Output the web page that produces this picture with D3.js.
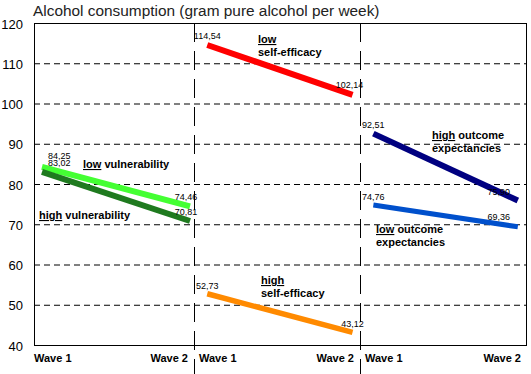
<!DOCTYPE html>
<html><head><meta charset="utf-8">
<script src="https://cdn.jsdelivr.net/npm/d3@7"></script>
<style>html,body{margin:0;padding:0;background:#fff;}svg{display:block;}</style>
</head><body>
<svg id="chart" width="531" height="374"></svg>
<script>
// ---- data ----
const titleText = "Alcohol consumption (gram pure alcohol per week)";
const yTicks = [40, 50, 60, 70, 80, 90, 100, 110, 120];
const waves = ["Wave 1", "Wave 2"];
const groups = ["vulnerability", "self-efficacy", "outcome expectancies"];
const seriesNames = ["low vulnerability", "high vulnerability", "low self-efficacy", "high self-efficacy", "high outcome expectancies", "low outcome expectancies"];
const seriesGroup = [0, 0, 1, 1, 2, 2];
const wave1Values = [84.25, 83.02, 114.54, 52.73, 92.51, 74.76];
const wave2Values = [74.46, 70.81, 102.14, 43.12, 75.90, 69.36];

// ---- layout / style ----
const colors = ["#44ff33", "#1f7a1f", "#ff0000", "#ff8a00", "#000080", "#0050cc"];
const widths = [6, 6, 6, 5.5, 6, 5];
const waveInset = [[0.05, 0.975], [0.08, 0.955], [0.08, 0.945]];
// label placement: [dx, dy, anchor] for wave1 and wave2
const lab1 = [[6,-8,"start"],[6,-6,"start"],[0,-6,"middle"],[0,-5,"middle"],[0,-6,"middle"],[0,-5,"middle"]];
const lab2 = [[-4,-6,"middle"],[-4,-6,"middle"],[-3,-7,"middle"],[0,-5,"middle"],[-19,-6,"middle"],[-19,-7,"middle"]];

const svg = d3.select("#chart");
const x = d3.scaleLinear().domain([0, 1, 2, 3]).range([34, 194, 360, 527]);
const y = d3.scaleLinear().domain([40, 120]).range([345, 23]);
const xL = x(0), xR = x(3), yT = y(120), yB = y(40);

// title
svg.append("text").attr("x", 33).attr("y", 16)
  .attr("font-family", "Liberation Sans, Arial, sans-serif").attr("font-size", 15.4)
  .attr("fill", "#222").text(titleText);

// gridlines
svg.append("g").selectAll("line").data(yTicks.filter(t => t > 40 && t < 120)).join("line")
  .attr("x1", xL).attr("x2", xR).attr("y1", d => y(d) + 0.5).attr("y2", d => y(d) + 0.5)
  .attr("stroke", "#000").attr("stroke-width", 1).attr("stroke-dasharray", "6,4");

// y tick labels
svg.append("g").selectAll("text").data(yTicks).join("text")
  .attr("x", 23).attr("y", d => y(d) + 5.5).attr("text-anchor", "end")
  .attr("font-family", "Liberation Sans, Arial, sans-serif").attr("font-size", 13)
  .attr("fill", "#000").text(d => d);

// border
svg.append("rect").attr("x", xL + 0.5).attr("y", yT + 0.5)
  .attr("width", xR - xL - 1).attr("height", yB - yT)
  .attr("fill", "none").attr("stroke", "#000").attr("stroke-width", 1);

// lines
const px = (i, w) => x(seriesGroup[i] + waveInset[seriesGroup[i]][w]);
const idx = d3.range(seriesNames.length);
svg.append("g").selectAll("line").data(idx).join("line")
  .attr("x1", i => px(i, 0)).attr("y1", i => y(wave1Values[i]))
  .attr("x2", i => px(i, 1)).attr("y2", i => y(wave2Values[i]))
  .attr("stroke", i => colors[i]).attr("stroke-width", i => widths[i]);

// dividers
svg.append("g").selectAll("line").data([1, 2]).join("line")
  .attr("x1", d => x(d) + 0.5).attr("x2", d => x(d) + 0.5)
  .attr("y1", yT).attr("y2", 374)
  .attr("stroke", "#000").attr("stroke-width", 1).attr("stroke-dasharray", "19,9");

// value labels
const fmt = v => d3.format(".2f")(v).replace(".", ",");
const vl = svg.append("g").attr("font-family", "Liberation Sans, Arial, sans-serif").attr("font-size", 9).attr("fill", "#000");
idx.forEach(i => {
  [[wave1Values, lab1, 0], [wave2Values, lab2, 1]].forEach(([vals, lab, w]) => {
    vl.append("text").attr("x", px(i, w) + lab[i][0]).attr("y", y(vals[i]) + lab[i][1])
      .attr("text-anchor", lab[i][2]).text(fmt(vals[i]));
  });
});

// wave axis labels
const wl = svg.append("g").attr("font-family", "Liberation Sans, Arial, sans-serif")
  .attr("font-size", 11).attr("font-weight", "bold").attr("fill", "#000");
groups.forEach((g, gi) => {
  wl.append("text").attr("x", x(gi) + (gi === 0 ? 0 : 5)).attr("y", 362).text(waves[0]);
  wl.append("text").attr("x", x(gi + 1) - 6).attr("y", 362).attr("text-anchor", "end").text(waves[1]);
});

// annotations
const ann = svg.append("g").attr("font-family", "Liberation Sans, Arial, sans-serif")
  .attr("font-size", 11).attr("font-weight", "bold").attr("fill", "#000");
function annotate(xp, yp, first, rest, second) {
  const t = ann.append("text").attr("x", xp).attr("y", yp);
  t.append("tspan").attr("text-decoration", "underline").text(first);
  if (rest) t.append("tspan").text(rest);
  if (second) ann.append("text").attr("x", xp).attr("y", yp + 13).text(second);
}
annotate(83, 168, "low", " vulnerability");
annotate(39, 219, "high", " vulnerability");
annotate(258, 43, "low", null, "self-efficacy");
annotate(261, 284, "high", null, "self-efficacy");
annotate(432, 139, "high", " outcome", "expectancies");
annotate(376, 233, "low", " outcome", "expectancies");
</script>
</body></html>
